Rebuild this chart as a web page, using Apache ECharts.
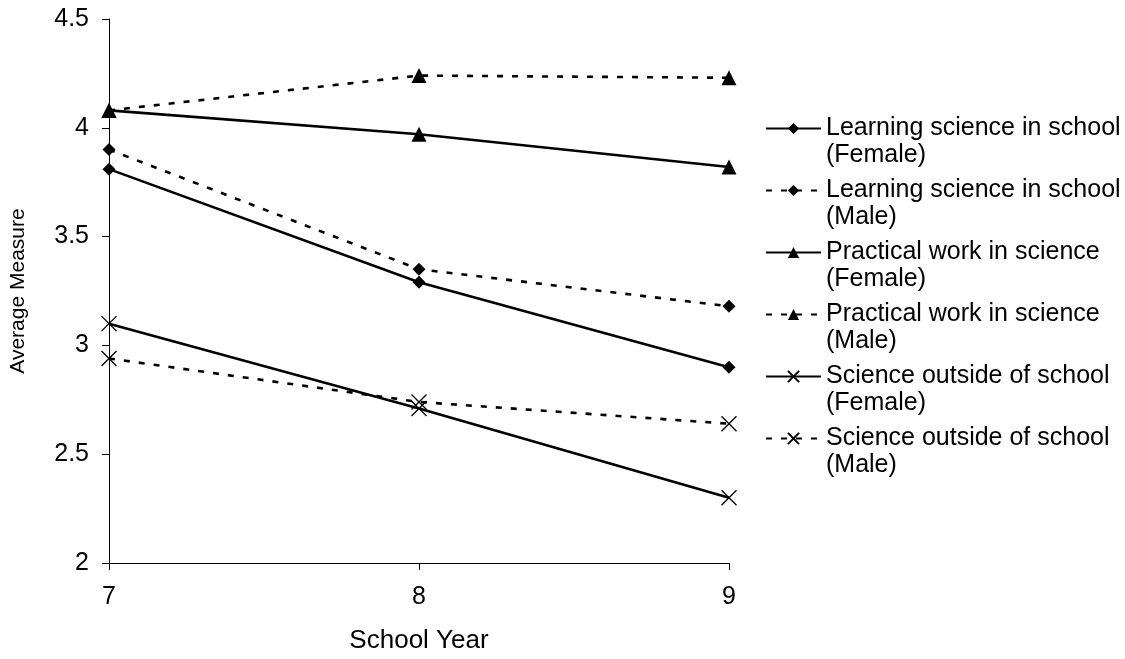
<!DOCTYPE html>
<html>
<head>
<meta charset="utf-8">
<script src="https://cdn.jsdelivr.net/npm/echarts@6/dist/echarts.min.js"></script>
<style>
  html, body { margin: 0; padding: 0; background: #fff; }
  #chart { width: 1125px; height: 659px; }
</style>
</head>
<body>
<div id="chart"></div>
<script>
// School years on the horizontal axis
const years = [7, 8, 9];

// Average measure per year for each attitude scale
const learningFemale  = [3.81, 3.29, 2.90];
const learningMale    = [3.90, 3.35, 3.18];
const practicalFemale = [4.08, 3.97, 3.82];
const practicalMale   = [4.08, 4.24, 4.23];
const outsideFemale   = [3.10, 2.71, 2.30];
const outsideMale     = [2.94, 2.74, 2.64];

const seriesNames = [
  'Learning science in school\n(Female)',
  'Learning science in school\n(Male)',
  'Practical work in science\n(Female)',
  'Practical work in science\n(Male)',
  'Science outside of school\n(Female)',
  'Science outside of school\n(Male)'
];

const FONT = '"Liberation Sans", Arial, sans-serif';
const CROSS = 'path://M0,0L10,10M10,0L0,10';

function pairs(values) {
  return years.map((y, i) => [y, values[i]]);
}

function makeSeries(name, values, marker, dashed) {
  const isCross = marker === CROSS;
  return {
    name: name,
    type: 'line',
    data: pairs(values),
    symbol: marker,
    symbolSize: isCross ? 15 : (marker === 'diamond' ? 13 : 15),
    showAllSymbol: true,
    lineStyle: {
      color: '#000',
      width: 2.6,
      type: dashed ? [6, 9] : 'solid'
    },
    itemStyle: isCross
      ? { color: 'rgba(0,0,0,0)', borderColor: '#000', borderWidth: 1.3 }
      : { color: '#000', borderWidth: 0 },
    emphasis: { disabled: true }
  };
}

const chart = echarts.init(document.getElementById('chart'), null, { renderer: 'canvas' });

chart.setOption({
  animation: false,
  backgroundColor: '#fff',
  grid: { left: 101, right: 396, top: 19, bottom: 92, containLabel: false },
  xAxis: {
    type: 'value',
    min: 7,
    max: 9,
    interval: 1,
    name: 'School Year',
    nameLocation: 'middle',
    nameGap: 65,
    nameTextStyle: { color: '#000', fontFamily: FONT, fontSize: 26 },
    axisLine: { lineStyle: { color: '#000', width: 1 } },
    axisTick: { show: true, length: 7, lineStyle: { color: '#000' } },
    axisLabel: { color: '#000', fontFamily: FONT, fontSize: 25, margin: 22 },
    splitLine: { show: false }
  },
  yAxis: {
    type: 'value',
    min: 2,
    max: 4.5,
    interval: 0.5,
    name: 'Average Measure',
    nameLocation: 'middle',
    nameGap: 80,
    nameTextStyle: { color: '#000', fontFamily: FONT, fontSize: 21 },
    axisLine: { show: true, lineStyle: { color: '#000', width: 1 } },
    axisTick: { show: true, length: 7, lineStyle: { color: '#000' } },
    axisLabel: { color: '#000', fontFamily: FONT, fontSize: 25, margin: 20 },
    splitLine: { show: false }
  },
  legend: {
    orient: 'vertical',
    left: 760,
    top: 83,
    itemWidth: 55,
    itemHeight: 14,
    itemGap: -19,
    selectedMode: false,
    formatter: name => '\n' + name,
    textStyle: { color: '#000', fontFamily: FONT, fontSize: 25, lineHeight: 27 },
    data: seriesNames
  },
  series: [
    makeSeries(seriesNames[0], learningFemale, 'diamond', false),
    makeSeries(seriesNames[1], learningMale, 'diamond', true),
    makeSeries(seriesNames[2], practicalFemale, 'triangle', false),
    makeSeries(seriesNames[3], practicalMale, 'triangle', true),
    makeSeries(seriesNames[4], outsideFemale, CROSS, false),
    makeSeries(seriesNames[5], outsideMale, CROSS, true)
  ]
});
</script>
</body>
</html>
